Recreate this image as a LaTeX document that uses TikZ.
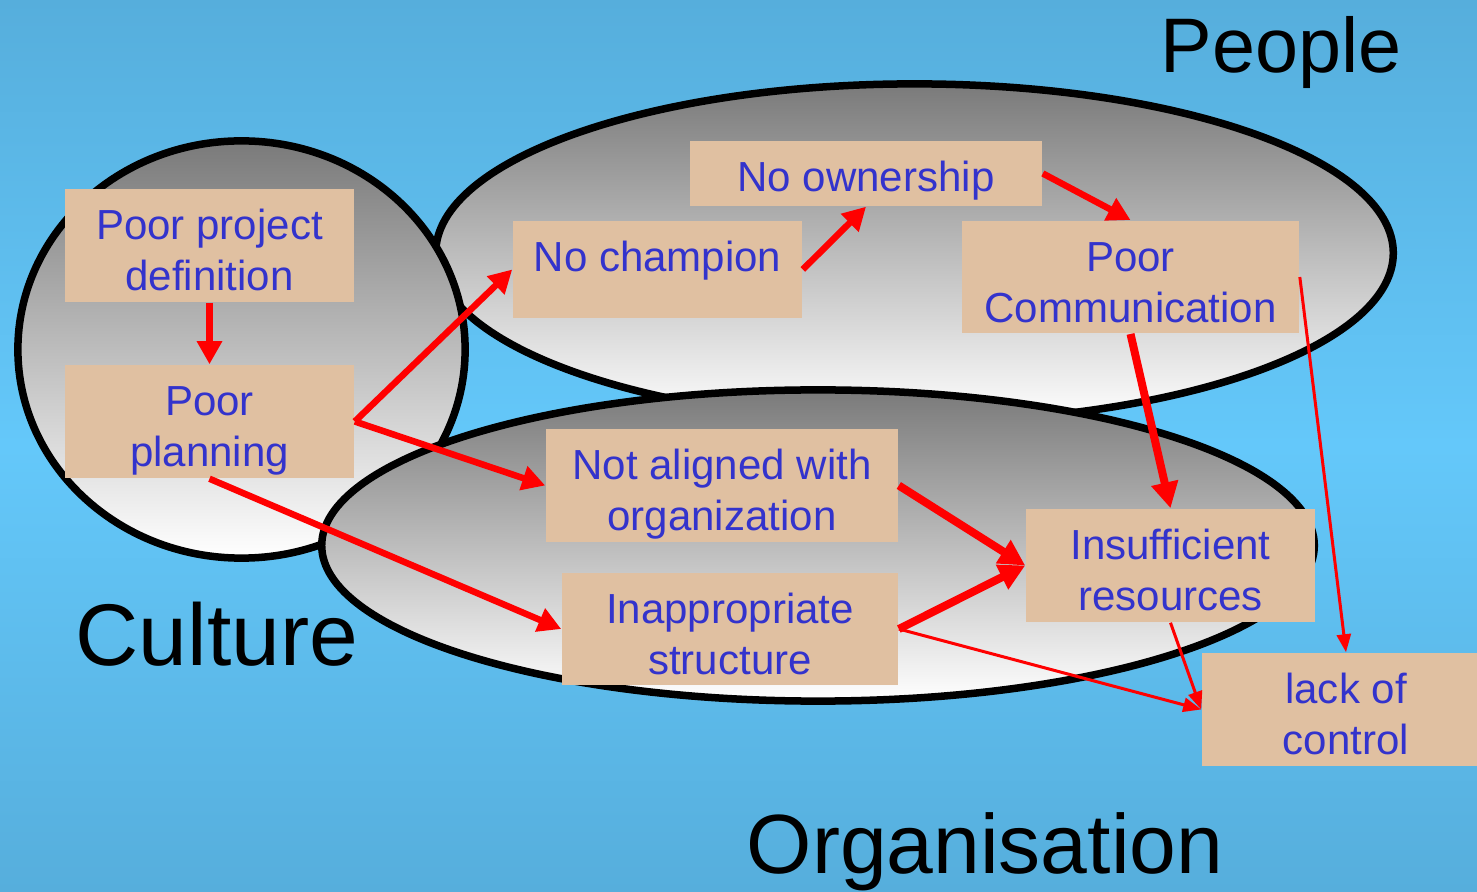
\documentclass[tikz,border=0pt]{standalone}
\usepackage{fontspec}
\setmainfont{Liberation Sans}
\usetikzlibrary{arrows.meta}

\definecolor{bgedge}{RGB}{86,174,220}
\definecolor{bgmid}{RGB}{100,200,250}
\definecolor{boxfill}{RGB}{224,192,161}
\definecolor{boxtext}{RGB}{51,51,204}
\definecolor{shadetop}{RGB}{122,122,122}

\newcommand{\boxtop}{\rule{0pt}{0.505cm}}
\newcommand{\boxbot}[1]{\rule[-#1]{0pt}{0pt}}

\begin{document}
\begin{tikzpicture}[
    x=0.01cm, y=-0.01cm,
    zone/.style={
        top color=shadetop,
        bottom color=white,
        draw=black,
        line width=0.075cm},
    cause/.style={
        fill=boxfill,
        text=boxtext,
        align=center,
        inner sep=0pt,
        font=\fontsize{11.95pt}{14.5pt}\selectfont},
    realm/.style={
        inner sep=0pt,
        anchor=base west},
    link/.style={
        draw=red,
        line width=0.065cm,
        -{Triangle[length=0.23cm,width=0.24cm]}},
    heavylink/.style={
        draw=red,
        line width=0.08cm,
        -{Triangle[length=0.26cm,width=0.26cm]}},
    thinlink/.style={
        draw=red,
        line width=0.03cm,
        -{Triangle[length=0.18cm,width=0.14cm]}}]

    \useasboundingbox (0,0) rectangle (1477,892);
    \clip (0,0) rectangle (1477,892);

    % background
    \shade[top color=bgedge, bottom color=bgedge, middle color=bgmid]
        (0,0) rectangle (1477,892);

    % the three areas
    \shade[zone] (914.5,253) ellipse [x radius=4.785cm, y radius=1.69cm];
    \shade[zone] (241.5,349.5) ellipse [x radius=2.235cm, y radius=2.085cm];
    \shade[zone] (818,545.5) ellipse [x radius=4.96cm, y radius=1.555cm];

    % causes
    \node[cause, minimum width=2.89cm, minimum height=1.13cm]
        (definition) at (209.5,245.5) {\boxtop Poor project\\definition\boxbot{0.11cm}};
    \node[cause, minimum width=2.89cm, minimum height=1.13cm]
        (planning) at (209.5,421.5) {\boxtop Poor\\planning\boxbot{0.11cm}};
    \node[cause, minimum width=2.89cm, minimum height=0.97cm]
        (champion) at (657.5,269.5) {\boxtop No champion\boxbot{0.465cm}};
    \node[cause, minimum width=3.52cm, minimum height=0.65cm]
        (ownership) at (866,173.5) {\boxtop No ownership\boxbot{0.145cm}};
    \node[cause, minimum width=3.37cm, minimum height=1.12cm]
        (communication) at (1130.5,277) {\boxtop Poor\\Communication\boxbot{0.11cm}};
    \node[cause, minimum width=3.52cm, minimum height=1.13cm]
        (aligned) at (722,485.5) {\boxtop Not aligned with\\organization\boxbot{0.11cm}};
    \node[cause, minimum width=3.36cm, minimum height=1.12cm]
        (structure) at (730,629) {\boxtop Inappropriate\\structure\boxbot{0.11cm}};
    \node[cause, minimum width=2.89cm, minimum height=1.13cm]
        (resources) at (1170.5,565.5) {\boxtop Insufficient\\resources\boxbot{0.11cm}};
    \node[cause, minimum width=2.88cm, minimum height=1.13cm]
        (control) at (1346,709.5) {\boxtop lack of\\control\boxbot{0.11cm}};

    % links
    \draw[link] (definition.south) -- (planning.north);
    \draw[link] (planning.east) -- (champion.west);
    \draw[link] (planning.east) -- (aligned.west);
    \draw[link] (planning.south) -- (structure.west);
    \draw[link] (champion.east) -- (ownership.south);
    \draw[link] (ownership.east) -- (communication.north);
    \draw[heavylink] (communication.south) -- (resources.north);
    \draw[heavylink] (aligned.east) -- (resources.west);
    \draw[heavylink] (structure.east) -- (resources.west);
    \draw[thinlink] (structure.east) -- (control.west);
    \draw[thinlink] (resources.south) -- (control.west);
    \draw[thinlink] (communication.east) -- (control.north);

    % area names
    \node[realm, font=\fontsize{22pt}{26pt}\selectfont] (people) at (1160,73) {People};
    \node[realm, font=\fontsize{24.9pt}{28pt}\selectfont] (culture) at (75,665) {Culture};
    \node[realm, font=\fontsize{23.9pt}{28pt}\selectfont] (organisation) at (746,873) {Organisation};
\end{tikzpicture}
\end{document}
